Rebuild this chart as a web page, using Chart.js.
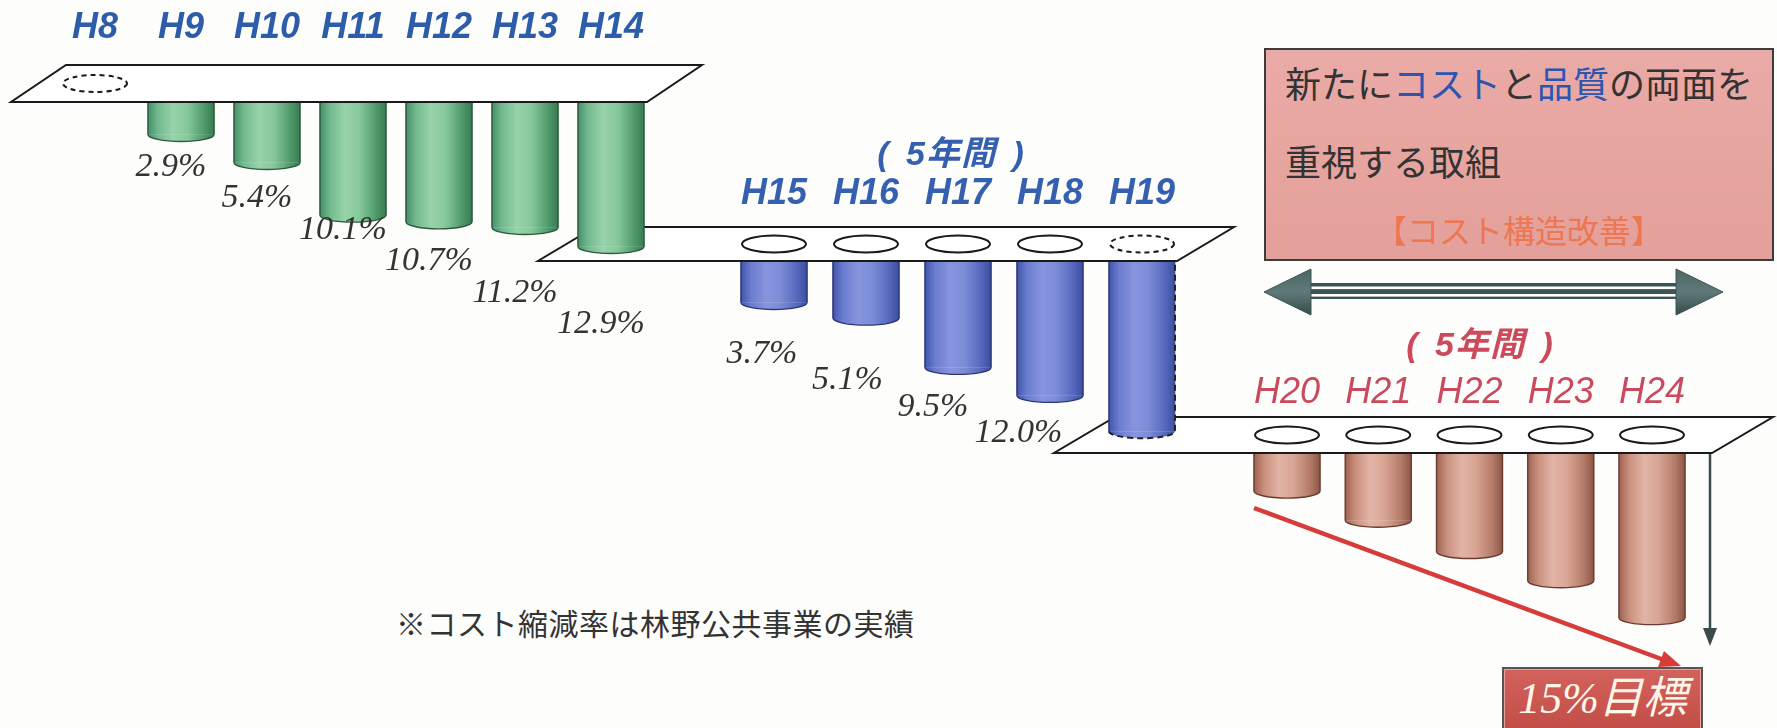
<!DOCTYPE html>
<html><head><meta charset="utf-8">
<script src="https://cdn.jsdelivr.net/npm/chart.js@4.4.1/dist/chart.umd.min.js"></script>
<style>
html,body{margin:0;padding:0;width:1777px;height:728px;overflow:hidden;background:#fdfdfc;}
.abs{position:absolute;white-space:nowrap;}
canvas{position:absolute;}
#g1{z-index:6}#g2{z-index:5}#g3{z-index:4}
.jp{font-family:"Noto Sans CJK JP","Noto Sans",sans-serif;}
.b{color:#2c55b0;}
.period{font-family:"Liberation Sans","Noto Sans CJK JP",sans-serif;font-weight:bold;font-style:italic;font-size:34px;line-height:40px;letter-spacing:1px;word-spacing:6px;transform:translateX(-50%);}
</style></head><body>

<svg class="abs" style="left:0;top:0;z-index:2" width="1777" height="728">
  <defs>
    <linearGradient id="hd" x1="0" y1="0" x2="0" y2="1">
      <stop offset="0" stop-color="#4d6666"/><stop offset="0.5" stop-color="#5f7878"/><stop offset="1" stop-color="#354c4c"/>
    </linearGradient>
  </defs>
  <rect x="1308" y="283" width="372" height="16" fill="#3b5454"/>
  <rect x="1308" y="286.5" width="372" height="2.6" fill="#ffffff"/>
  <rect x="1308" y="294" width="372" height="2.6" fill="#ffffff"/>
  <polygon points="1264,292 1311,269 1311,315" fill="url(#hd)" stroke="#3b5454" stroke-width="1"/>
  <polygon points="1723,292 1676,269 1676,315" fill="url(#hd)" stroke="#3b5454" stroke-width="1"/>
  <line x1="1710" y1="453" x2="1710" y2="630" stroke="#3b4a4a" stroke-width="2.5"/>
  <polygon points="1703,628 1717,628 1710,646" fill="#3b4a4a"/>
  <line x1="1254" y1="508" x2="1664" y2="660" stroke="#d63c3a" stroke-width="4.5"/>
  <polygon points="1681,666 1658,667 1664,651" fill="#d63c3a"/>
</svg>

<div class="abs" style="left:1264px;top:48px;width:506px;height:209px;background:linear-gradient(180deg,#eaaaa5,#e4a09b);border:2px solid #3c3c3c;z-index:1"></div>
<div class="abs jp" style="left:1285px;top:60px;font-size:36px;line-height:44px;color:#333;z-index:3">新たに<span class="b">コスト</span>と<span class="b">品質</span>の両面を</div>
<div class="abs jp" style="left:1285px;top:138px;font-size:36px;line-height:44px;color:#333;z-index:3">重視する取組</div>
<div class="abs jp" style="left:1264px;width:510px;text-align:center;top:209px;font-size:32px;line-height:40px;color:#ee7650;z-index:3">【コスト構造改善】</div>

<div class="abs period" style="left:951px;top:133px;color:#3560b0;z-index:7">( 5年間 )</div>
<div class="abs period" style="left:1480px;top:324px;color:#cc4a5c;z-index:7">( 5年間 )</div>

<div class="abs" style="left:1502px;top:667px;width:197px;height:70px;background:linear-gradient(180deg,#d4625c,#bf4a44);border:2px solid #555;box-shadow:inset 0 0 0 1px #e8a09a;z-index:3"></div>
<div class="abs" style="left:1502px;width:201px;text-align:center;top:674px;font-family:'Liberation Serif','Noto Sans CJK JP',serif;font-style:italic;font-size:44px;line-height:50px;color:#fff6ea;z-index:4">15%目標</div>

<div class="abs jp" style="left:396px;top:602px;font-size:30px;line-height:40px;letter-spacing:0.5px;color:#333;z-index:3">※コスト縮減率は林野公共事業の実績</div>

<canvas id="g3"></canvas><canvas id="g2"></canvas><canvas id="g1"></canvas>

<script>
// ---------------- data ----------------
const years1 = ['H8','H9','H10','H11','H12','H13','H14'];
const rates1 = [null, 2.9, 5.4, 10.1, 10.7, 11.2, 12.9];
const years2 = ['H15','H16','H17','H18','H19'];
const rates2 = [3.7, 5.1, 9.5, 12.0, 15.2];
const years3 = ['H20','H21','H22','H23','H24'];
const rates3 = [3.4, 6.0, 8.8, 11.4, 14.7];
const ringYears = ['H8','H15','H16','H17','H18','H19','H20','H21','H22','H23','H24'];
const dashedYears = ['H8','H19'];
const unlabeledYears = ['H19','H20','H21','H22','H23','H24'];

// ---------------- layout / style ----------------
const PX_PER_PCT = 11.2;
const CAP_RY = 7;
const TICK_FAMILY = '"Liberation Sans Narrow","Liberation Sans",sans-serif';
const L1 = {left:0, right:720, labelMid:28, baseline:102, bottom:350, first:95, step:86, barW:66,
  extL:84, extR:36, depth:37, slant:55, fontSize:36, weight:'bold', tickColor:'#2d5ca8',
  pctY0:33.6, pctDy:31.4, pctDx0:-10, pctDdx:0};
const L2 = {left:500, right:1260, labelMid:194, baseline:261, bottom:460, first:774, step:92, barW:66,
  extL:236, extR:35, depth:34, slant:57, fontSize:36, weight:'bold', tickColor:'#3560b0',
  pctY0:93, pctDy:26.3, pctDx0:-12, pctDdx:-6.5};
const L3 = {left:1030, right:1777, labelMid:393, baseline:453, bottom:660, first:1287, step:91.25, barW:66,
  extL:233, extR:60, depth:36, slant:61, fontSize:36, weight:'normal', tickColor:'#c94a5c',
  pctY0:0, pctDy:0, pctDx0:0, pctDdx:0};
const S1 = {stops:['#45906a','#72b98e','#98d3aa','#86c89c','#4f9a6c','#3a7a52'], outline:'#2c5a3c'};
const S2 = {stops:['#4356aa','#6a7cce','#8795de','#7b8cd6','#5668bd','#3d4ea0'], outline:'#2c3676'};
const S3 = {stops:['#9e6250','#c88e7c','#e2b4a6','#d8a494','#b47a68','#8c5646'], outline:'#6a3c30'};
const STOP_POS = [0, .15, .38, .6, .85, 1];

function grad(c, x, w, stops){
  const g = c.createLinearGradient(x - w/2, 0, x + w/2, 0);
  stops.forEach((s,i) => g.addColorStop(STOP_POS[i], s));
  return g;
}

function groupPlugin(L, S){
  function edges(chart){
    const xs = chart.scales.x, ys = chart.scales.y;
    const n = chart.data.labels.length;
    return {yb: ys.getPixelForValue(0), xl: xs.getPixelForValue(0) - L.extL, xr: xs.getPixelForValue(n-1) + L.extR};
  }
  return {
    id: 'cylinders',
    beforeDatasetsDraw(chart){
      const c = chart.ctx, xs = chart.scales.x;
      const {yb, xl, xr} = edges(chart);
      c.save();
      c.beginPath();
      c.moveTo(xl, yb); c.lineTo(xr, yb); c.lineTo(xr + L.slant, yb - L.depth); c.lineTo(xl + L.slant, yb - L.depth); c.closePath();
      c.fillStyle = '#ffffff'; c.fill();
      c.lineWidth = 2; c.strokeStyle = '#1a1a1a'; c.lineJoin = 'miter'; c.stroke();
      chart.data.labels.forEach((lab, i) => {
        if (!ringYears.includes(lab)) return;
        const x = xs.getPixelForValue(i);
        c.beginPath();
        c.ellipse(x, yb - L.depth/2, L.barW/2 - 1, 8.5, 0, 0, 2*Math.PI);
        c.setLineDash(dashedYears.includes(lab) ? [5,4] : []);
        c.lineWidth = 2; c.stroke();
      });
      c.restore();
    },
    afterDatasetsDraw(chart){
      const c = chart.ctx;
      const {yb, xl, xr} = edges(chart);
      const meta = chart.getDatasetMeta(0);
      const vals = chart.data.datasets[0].data;
      meta.data.forEach((el, i) => {
        const v = vals[i];
        if (v == null) return;
        const lab = chart.data.labels[i];
        const dashed = dashedYears.includes(lab);
        const {x, y, base, width} = el.getProps(['x','y','base','width'], true);
        const hw = width/2;
        c.save();
        c.fillStyle = grad(c, x, width, S.stops);
        c.beginPath(); c.ellipse(x, y, hw, CAP_RY, 0, 0, Math.PI); c.fill();
        c.lineWidth = 1.4; c.strokeStyle = S.outline;
        c.beginPath(); c.moveTo(x - hw, base); c.lineTo(x - hw, y);
        if (!dashed) {
          c.ellipse(x, y, hw, CAP_RY, 0, Math.PI, 0, true);
          c.lineTo(x + hw, base);
          c.stroke();
        } else {
          c.stroke();
          c.beginPath();
          c.ellipse(x, y, hw, CAP_RY, 0, Math.PI, 0, true);
          c.lineTo(x + hw, base);
          c.lineWidth = 2; c.strokeStyle = '#222'; c.setLineDash([6,4]);
          c.stroke();
        }
        c.restore();
        if (!unlabeledYears.includes(lab)) {
          c.save();
          c.font = 'italic 34px "Liberation Serif", serif';
          c.fillStyle = '#333333'; c.textAlign = 'center'; c.textBaseline = 'middle';
          c.fillText(v.toFixed(1) + '%', x + L.pctDx0 + L.pctDdx*i, yb + L.pctY0 + L.pctDy*i);
          c.restore();
        }
      });
      c.save();
      c.beginPath(); c.moveTo(xl, yb); c.lineTo(xr, yb);
      c.lineWidth = 2; c.strokeStyle = '#1a1a1a'; c.stroke();
      c.restore();
    }
  };
}

function makeChart(id, years, rates, L, S){
  const cv = document.getElementById(id);
  const top = 2*L.labelMid - L.baseline;
  const h = L.bottom - top, w = L.right - L.left;
  cv.width = w; cv.height = h;
  cv.style.left = L.left + 'px'; cv.style.top = top + 'px';
  cv.style.width = w + 'px'; cv.style.height = h + 'px';
  const pad = L.baseline - L.labelMid - 0.6*L.fontSize;
  const n = years.length;
  const areaL = L.first - L.step/2;
  const padL = areaL - L.left;
  const padR = L.right - (areaL + n*L.step);
  return new Chart(cv, {
    type: 'bar',
    data: {
      labels: years,
      datasets: [{
        data: rates,
        barThickness: L.barW,
        borderWidth: 0,
        backgroundColor: (ctx) => {
          const ch = ctx.chart;
          if (!ch.chartArea || ctx.type !== 'data') return S.stops[3];
          return grad(ch.ctx, ch.scales.x.getPixelForValue(ctx.dataIndex), L.barW, S.stops);
        }
      }]
    },
    options: {
      responsive: false, animation: false, devicePixelRatio: 1,
      layout: {padding: {left: padL, right: padR, top: 0, bottom: 0}},
      plugins: {legend: {display: false}, tooltip: {enabled: false}},
      scales: {
        x: {
          position: 'top', offset: true,
          grid: {display: false, drawTicks: false},
          border: {display: false},
          ticks: {
            color: L.tickColor, padding: pad, maxRotation: 0, autoSkip: false,
            font: {family: TICK_FAMILY, size: L.fontSize, style: 'italic', weight: L.weight}
          }
        },
        y: {display: false, reverse: true, min: 0, max: (L.bottom - L.baseline)/PX_PER_PCT}
      }
    },
    plugins: [groupPlugin(L, S)]
  });
}

makeChart('g3', years3, rates3, L3, S3);
makeChart('g2', years2, rates2, L2, S2);
makeChart('g1', years1, rates1, L1, S1);
</script>
</body></html>
